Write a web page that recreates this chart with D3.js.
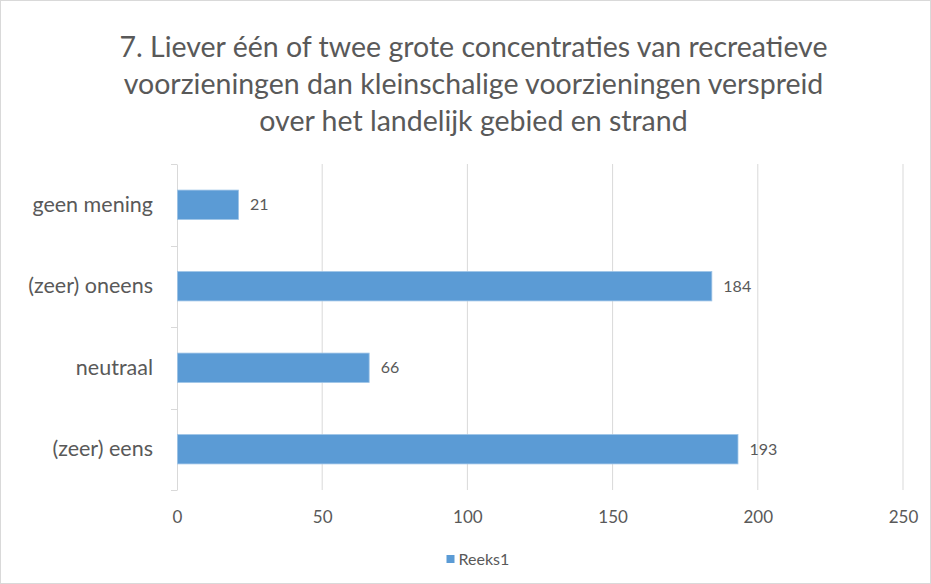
<!DOCTYPE html>
<html>
<head>
<meta charset="utf-8">
<script src="https://cdn.jsdelivr.net/npm/d3@7"></script>
<style>
  body { margin: 0; background: #fff; }
  text { font-family: Lato, "Open Sans", sans-serif; fill: #595959; }
</style>
</head>
<body>
<svg id="chart" width="931" height="584"></svg>
<script>
// data
let categories = ["geen mening", "(zeer) oneens", "neutraal", "(zeer) eens"];
let values = [21, 184, 66, 193];
let xTicks = [0, 50, 100, 150, 200, 250];
let titleLines = [
  "7. Liever één of twee grote concentraties van recreatieve",
  "voorzieningen dan kleinschalige voorzieningen verspreid",
  "over het landelijk gebied en strand"
];
let seriesName = "Reeks1";

let svg = d3.select("#chart"),
    width = +svg.attr("width"),
    height = +svg.attr("height"),
    margin = { top: 164, right: 28, bottom: 94, left: 177 };

let chartWidth = width - margin.left - margin.right;
let chartHeight = height - margin.top - margin.bottom;

svg.append("rect")
  .attr("x", 0.5).attr("y", 0.5)
  .attr("width", width - 1).attr("height", height - 1)
  .attr("fill", "#fff").attr("stroke", "#d9d9d9");

svg.selectAll(".title")
  .data(titleLines)
  .enter()
  .append("text")
  .attr("class", "title")
  .attr("x", width / 2 + 8)
  .attr("y", (d, i) => 57 + i * 37)
  .attr("text-anchor", "middle")
  .style("font-size", "28.5px")
  .text(d => d);

let g = svg.append("g").attr("transform", `translate(${margin.left},${margin.top})`);

let xScale = d3.scaleLinear().domain([0, 250]).range([0, chartWidth]);
let yScale = d3.scaleBand().domain(categories).range([0, chartHeight]).paddingInner(0.64).paddingOuter(0.32);

// gridlines
g.selectAll(".grid")
  .data(xTicks.slice(1))
  .enter()
  .append("line")
  .attr("x1", d => xScale(d)).attr("x2", d => xScale(d))
  .attr("y1", 0).attr("y2", chartHeight)
  .attr("stroke", "#d9d9d9").attr("stroke-width", 1);

// x axis labels
let xAxis = g.append("g")
  .attr("transform", `translate(0,${chartHeight})`)
  .call(d3.axisBottom(xScale).tickValues(xTicks).tickSize(0).tickPadding(21));
xAxis.select(".domain").remove();
xAxis.selectAll("text").style("font-size", "17px").attr("fill", "#595959");

// y axis
let yAxis = g.append("g")
  .call(d3.axisLeft(yScale).tickSize(0).tickPadding(24));
yAxis.select(".domain").attr("stroke", "#d9d9d9");
yAxis.selectAll("text").style("font-size", "21.5px").attr("fill", "#595959");

let bandStep = chartHeight / categories.length;
g.selectAll(".ytick")
  .data(d3.range(categories.length + 1))
  .enter()
  .append("line")
  .attr("x1", -6).attr("x2", 0)
  .attr("y1", d => Math.round(d * bandStep) + 0.5)
  .attr("y2", d => Math.round(d * bandStep) + 0.5)
  .attr("stroke", "#d9d9d9");

// bars
g.selectAll(".bar")
  .data(values)
  .enter()
  .append("rect")
  .attr("x", 0.5)
  .attr("y", (d, i) => yScale(categories[i]))
  .attr("width", d => xScale(d))
  .attr("height", yScale.bandwidth())
  .attr("fill", "#5b9bd5")
  .attr("stroke", "#9dc3e6")
  .attr("stroke-width", 0.8);

g.selectAll(".label")
  .data(values)
  .enter()
  .append("text")
  .attr("x", d => xScale(d) + 12)
  .attr("y", (d, i) => yScale(categories[i]) + yScale.bandwidth() / 2)
  .attr("dy", "0.35em")
  .style("font-size", "16px")
  .text(d => d);

// legend
let legend = svg.append("g").attr("transform", `translate(${width / 2 - 19},559)`);
legend.append("rect").attr("x", 0).attr("y", -4).attr("width", 8).attr("height", 8).attr("fill", "#5b9bd5");
legend.append("text").attr("x", 12).attr("y", 0).attr("dy", "0.35em").style("font-size", "16px").text(seriesName);
</script>
</body>
</html>
